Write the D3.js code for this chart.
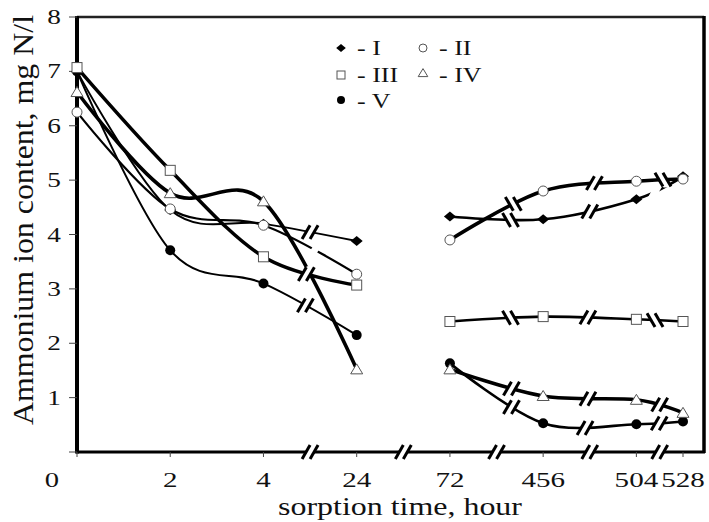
<!DOCTYPE html>
<html><head><meta charset="utf-8">
<script src="https://cdn.jsdelivr.net/npm/d3@7"></script>
<style>
body{margin:0;background:#fff}
text{font-family:"Liberation Serif","Times New Roman",Times,serif;fill:#111}
</style>
</head><body>
<svg id="c" width="709" height="522"></svg>
<script>
// ---------- data ----------
const timeLabels = ["0","2","4","24","72","456","504","528"];
const seriesNames = ["I","II","III","IV","V"];
const seriesI   = [7.00, 4.45, 4.20, 3.88, 4.33, 4.28, 4.65, 5.07];
const seriesII  = [6.25, 4.47, 4.17, 3.27, 3.90, 4.80, 4.98, 5.02];
const seriesIII = [7.07, 5.18, 3.59, 3.07, 2.40, 2.49, 2.44, 2.40];
const seriesIV  = [6.62, 4.76, 4.61, 1.52, 1.52, 1.03, 0.96, 0.72];
const seriesV   = [7.00, 3.71, 3.10, 2.15, 1.63, 0.53, 0.51, 0.56];
const yTickValues = [1,2,3,4,5,6,7,8];

const allSeries = [seriesI, seriesII, seriesIII, seriesIV, seriesV];
const markerKind = ["diamond","openCircle","square","triangle","dot"];
const sections = [[0,1,2,3],[4,5,6,7]];           // lines are drawn within each section
const lineWidthLeft  = [2, 2.2, 3.5, 3.6, 2];
const lineWidthRight = [2.6, 3.6, 2.6, 3.6, 2.6];
// breaks drawn on series lines: [series, from point index, fraction, style]
const lineBreaks = [
  [0,2,0.50,"/"],[1,2,0.55,"gap"],[2,2,0.46,"/"],[4,2,0.45,"/"],
  [0,4,0.65,"\\"],[0,5,0.50,"/"],[0,6,0.40,"gap"],
  [1,4,0.68,"\\"],[1,5,0.55,"/"],[1,6,0.57,"\\"],
  [2,4,0.65,"\\"],[2,5,0.48,"/"],[2,6,0.40,"\\"],
  [3,4,0.66,"/"],[3,5,0.48,"/"],[3,6,0.50,"/"],
  [4,4,0.66,"/"],[4,5,0.45,"/"],[4,6,0.49,"/"]
];
const axisBreakAfter = [2,3,4,5,6];

// ---------- layout ----------
const svg = d3.select("#c");
const L = 77, T = 17, R = 704, B = 452;
// the last interval (504 -> 528 h) is drawn half as wide
const slotOf = i => (i === timeLabels.length - 1 ? i - 0.5 : i);
const xs = d3.scaleLinear().domain([0, 6.5]).range([L, 683]);
const xAt = i => xs(slotOf(i));
const y = d3.scaleLinear().domain([0, 8]).range([B, T]);

function txt(x, yy, s, size, anchor, sx) {
  return svg.append("text")
    .attr("transform", `translate(${x},${yy}) scale(${sx},1)`)
    .attr("text-anchor", anchor).attr("font-size", size).text(s);
}

// ---------- lines ----------
const lineGen = d3.line().x(d => xAt(d.i)).y(d => y(d.v)).curve(d3.curveCardinal.tension(0));
const gLines = svg.append("g");
const pathNodes = allSeries.map(() => []);
allSeries.forEach((s, si) => {
  sections.forEach((sec, k) => {
    const pts = sec.map(i => ({i, v: s[i]}));
    const p = gLines.append("path").attr("d", lineGen(pts))
      .attr("fill", "none").attr("stroke", "#000")
      .attr("stroke-width", k === 0 ? lineWidthLeft[si] : lineWidthRight[si])
      .attr("stroke-linejoin", "round");
    pathNodes[si][k] = p.node();
  });
});

// ---------- axes & frame ----------
const gAx = svg.append("g");
gAx.append("line").attr("x1", L).attr("x2", R).attr("y1", T).attr("y2", T).attr("stroke", "#222").attr("stroke-width", 2.5);
gAx.append("line").attr("x1", R).attr("x2", R).attr("y1", T - 1).attr("y2", B + 1).attr("stroke", "#000").attr("stroke-width", 3.5);
gAx.append("line").attr("x1", L - 1).attr("x2", R + 1).attr("y1", B).attr("y2", B).attr("stroke", "#000").attr("stroke-width", 3);
gAx.append("line").attr("x1", L).attr("x2", L).attr("y1", T - 1).attr("y2", B + 1.5).attr("stroke", "#000").attr("stroke-width", 4);
[0].concat(yTickValues).forEach(v => {
  gAx.append("line").attr("x1", L - 8).attr("x2", L).attr("y1", y(v)).attr("y2", y(v)).attr("stroke", "#444").attr("stroke-width", 1);
});
timeLabels.forEach((t, i) => {
  gAx.append("line").attr("x1", xAt(i)).attr("x2", xAt(i)).attr("y1", B).attr("y2", B + 5).attr("stroke", "#444").attr("stroke-width", 1);
});

// ---------- breaks ----------
const gBr = svg.append("g");
function drawBreak(cx, cy, style) {
  const th = Math.PI / 3;
  const dx = Math.cos(th), dy = (style === "\\" ? 1 : -1) * Math.sin(th);
  const len = 16, gap = 4, hl = len / 2 + 1;
  const poly = [
    [cx - gap + dx * hl, cy + dy * hl], [cx + gap + dx * hl, cy + dy * hl],
    [cx + gap - dx * hl, cy - dy * hl], [cx - gap - dx * hl, cy - dy * hl]
  ];
  gBr.append("polygon").attr("points", poly.map(p => p.join(",")).join(" ")).attr("fill", "#fff");
  if (style === "gap") return;
  [-gap, gap].forEach(o => {
    gBr.append("line")
      .attr("x1", cx + o - dx * len / 2).attr("y1", cy - dy * len / 2)
      .attr("x2", cx + o + dx * len / 2).attr("y2", cy + dy * len / 2)
      .attr("stroke", "#000").attr("stroke-width", 3);
  });
}
function pointAtX(node, tx) {
  let lo = 0, hi = node.getTotalLength();
  for (let k = 0; k < 40; k++) {
    const mid = (lo + hi) / 2;
    if (node.getPointAtLength(mid).x < tx) lo = mid; else hi = mid;
  }
  return node.getPointAtLength((lo + hi) / 2);
}
lineBreaks.forEach(([si, i, f, style]) => {
  const node = pathNodes[si][i < 4 ? 0 : 1];
  const tx = xAt(i) + f * (xAt(i + 1) - xAt(i));
  const p = pointAtX(node, tx);
  drawBreak(p.x, p.y, style);
});
axisBreakAfter.forEach(i => drawBreak((xAt(i) + xAt(i + 1)) / 2, B, "/"));

// ---------- markers ----------
const gM = svg.append("g");
function marker(g, kind, cx, cy, sc) {
  sc = sc || 1;
  const t = `translate(${cx},${cy}) scale(${sc})`;
  if (kind === "diamond") g.append("path").attr("d", "M0,-5L6,0L0,5L-6,0Z").attr("transform", t).attr("fill", "#000");
  else if (kind === "dot") g.append("circle").attr("r", 5).attr("transform", t).attr("fill", "#000");
  else if (kind === "openCircle") g.append("circle").attr("r", 5).attr("transform", t).attr("fill", "#fff").attr("stroke", "#555").attr("stroke-width", 1 / sc);
  else if (kind === "square") g.append("rect").attr("x", -5).attr("y", -5).attr("width", 10).attr("height", 10).attr("transform", t).attr("fill", "#fff").attr("stroke", "#555").attr("stroke-width", 1 / sc);
  else if (kind === "triangle") g.append("path").attr("d", "M0,-5.5L6,4.5L-6,4.5Z").attr("transform", t).attr("fill", "#fff").attr("stroke", "#555").attr("stroke-width", 1 / sc);
}
[0, 4, 3, 2, 1].forEach(si => {
  allSeries[si].forEach((v, i) => marker(gM, markerKind[si], xAt(i), y(v)));
});

// ---------- labels ----------
yTickValues.forEach(v => txt(54, y(v) + 7, String(v), 21, "middle", 1.3));
txt(52, 487, "0", 22, "middle", 1.3);
timeLabels.forEach((t, i) => { if (i > 0) txt(xAt(i), 487, t, 22, "middle", 1.32); });

svg.append("text").attr("x", 400).attr("y", 515).attr("text-anchor", "middle")
  .attr("font-size", 25).attr("textLength", 244).attr("lengthAdjust", "spacingAndGlyphs")
  .text("sorption time, hour");
svg.append("text").attr("transform", "translate(33,220) rotate(-90)").attr("text-anchor", "middle")
  .attr("font-size", 30).attr("textLength", 410).attr("lengthAdjust", "spacingAndGlyphs")
  .text("Ammonium ion content, mg N/l");

// ---------- legend ----------
const gL = svg.append("g");
const legendPos = [[341, 48, 357, 55], [423, 48, 439, 55], [341, 75, 357, 82], [423, 73, 439, 82], [341, 100, 357, 108]];
seriesNames.forEach((n, si) => {
  const [mx, my, tx, ty] = legendPos[si];
  marker(gL, markerKind[si], mx, my, 0.8);
  txt(tx, ty, "- " + n, 20, "start", 1.3);
});
</script>
</body></html>
